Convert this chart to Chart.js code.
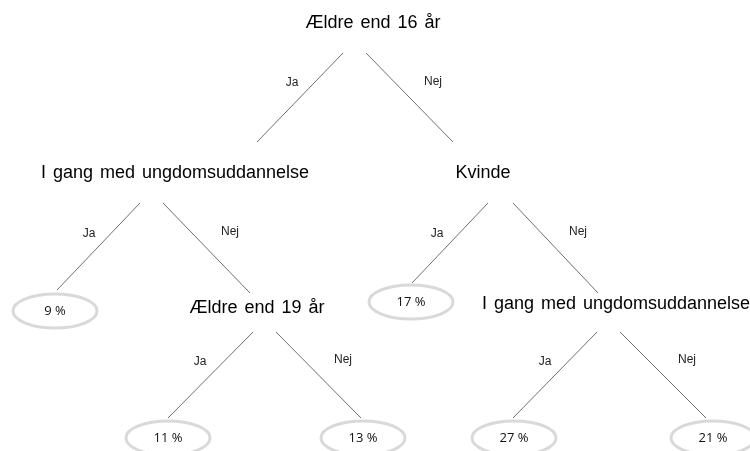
<!DOCTYPE html>
<html>
<head>
<meta charset="utf-8">
<script src="https://cdn.jsdelivr.net/npm/chart.js@4"></script>
<style>
  html, body { margin: 0; padding: 0; background: #fff; }
  #wrap { width: 750px; height: 451px; }
</style>
</head>
<body>
<div id="wrap"><canvas id="treeChart"></canvas></div>
<script>
// questions (inner nodes) of the tree
const questions = ['Ældre end 16 år', 'I gang med ungdomsuddannelse', 'Kvinde', 'Ældre end 19 år', 'I gang med ungdomsuddannelse'];
const questionX = [373, 175, 483, 257, 616];
const questionY = [23, 173, 173, 308, 304];

// leaves: share in percent
const leafShares = [9, 17, 11, 13, 27, 21];
const leafX = [55, 411, 168, 363, 514, 713];
const leafY = [311, 302, 438, 438, 438, 438];

// branches (start x, start y, end x, end y) and their answer labels
const branchStart = [[343, 53], [366, 53], [140, 203], [163, 203], [488, 203], [513, 203], [253, 332], [276, 332], [597, 332], [620, 332]];
const branchEnd = [[257, 142], [453, 142], [57, 290], [250, 293], [412, 283], [598, 293], [168, 418], [361, 418], [513, 418], [706, 418]];
const branchAnswers = ['Ja', 'Nej', 'Ja', 'Nej', 'Ja', 'Nej', 'Ja', 'Nej', 'Ja', 'Nej'];
const answerX = [292, 433, 89, 230, 437, 578, 200, 343, 545, 687];
const answerY = [83, 82, 234, 232, 234, 232, 362, 360, 362, 360];

// ellipse used as point style for the leaves
const ellipse = document.createElement('canvas');
ellipse.width = 90;
ellipse.height = 40;
const ec = ellipse.getContext('2d');
ec.strokeStyle = '#d9d9d9';
ec.lineWidth = 3;
ec.beginPath();
ec.ellipse(45, 20, 42, 17, 0, 0, Math.PI * 2);
ec.stroke();

const datasets = branchStart.map((s, i) => ({
  data: [{ x: s[0], y: s[1] }, { x: branchEnd[i][0], y: branchEnd[i][1] }],
  showLine: true,
  borderColor: '#6f6f6f',
  borderWidth: 1,
  pointRadius: 0,
  clip: false
}));

datasets.push({
  data: leafShares.map((v, i) => ({ x: leafX[i], y: leafY[i] })),
  showLine: false,
  pointStyle: ellipse,
  pointRadius: 1,
  clip: false
});

const textPlugin = {
  id: 'treeText',
  afterDatasetsDraw(chart) {
    const { ctx, scales } = chart;
    const px = v => scales.x.getPixelForValue(v);
    const py = v => scales.y.getPixelForValue(v);
    ctx.save();
    ctx.textAlign = 'center';
    ctx.textBaseline = 'middle';
    ctx.fillStyle = '#000';

    ctx.font = '18px "Liberation Sans", Arial, sans-serif';
    ctx.wordSpacing = '2px';
    questions.forEach((q, i) => ctx.fillText(q, px(questionX[i]), py(questionY[i])));
    ctx.wordSpacing = '0px';

    ctx.font = '12px "Liberation Sans", Arial, sans-serif';
    ctx.fillStyle = '#222';
    branchAnswers.forEach((a, i) => ctx.fillText(a, px(answerX[i]), py(answerY[i])));

    ctx.font = '13px "Open Sans", sans-serif';
    ctx.fillStyle = '#111';
    leafShares.forEach((v, i) => ctx.fillText(v + ' %', px(leafX[i]), py(leafY[i])));
    ctx.restore();
  }
};

new Chart(document.getElementById('treeChart'), {
  type: 'scatter',
  data: { datasets: datasets },
  options: {
    responsive: true,
    maintainAspectRatio: false,
    animation: false,
    layout: { padding: 0, autoPadding: false },
    scales: {
      x: { type: 'linear', min: 0, max: 750, display: false },
      y: { type: 'linear', min: 0, max: 451, reverse: true, display: false }
    },
    plugins: {
      legend: { display: false },
      tooltip: { enabled: false }
    }
  },
  plugins: [textPlugin]
});
</script>
</body>
</html>
